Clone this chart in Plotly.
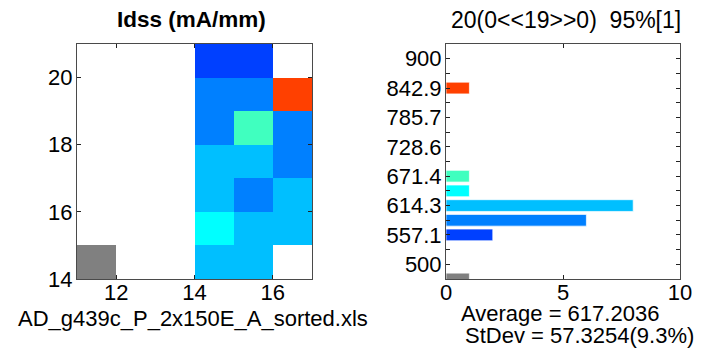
import numpy as np
import plotly.graph_objects as go

# Idss bins (mA/mm): 14 bins spanning 500..900, plus one low-outlier bin
bin_step = 400 / 14
bin_centers = [471.43, 557.14, 585.71, 614.29, 642.86, 671.43, 842.86]
bin_counts = [1, 2, 6, 8, 1, 1, 1]

# Wafer map: die column / row and binned Idss of every measured die
die_col = [11, 14, 15, 14, 15, 16, 14, 15, 16, 14, 15, 16, 14, 15, 16, 14, 15, 16, 14, 15]
die_row = [14, 20, 20, 19, 19, 19, 18, 18, 18, 17, 17, 17, 16, 16, 16, 15, 15, 15, 14, 14]
die_idss = [471.43, 557.14, 557.14, 585.71, 585.71, 842.86, 585.71, 671.43, 585.71,
            614.29, 614.29, 585.71, 614.29, 585.71, 614.29, 642.86, 614.29, 614.29,
            614.29, 614.29]

hist_ticks = [500, 557.1, 614.3, 671.4, 728.6, 785.7, 842.9, 900]
map_xticks = [12, 14, 16]
map_yticks = [14, 16, 18, 20]

title_left = "<b>Idss (mA/mm)</b>"
title_right = "20(0<<19>>0)\u00a0 95%[1]"
file_label = "AD_g439c_P_2x150E_A_sorted.xls"
avg_label = "Average = 617.2036"
std_label = "StDev = 57.3254(9.3%)"

# 16-level jet palette, grey for values below the lower limit
JET16 = [(0, 0, 191), (0, 0, 255), (0, 64, 255), (0, 128, 255), (0, 191, 255),
         (0, 255, 255), (64, 255, 191), (128, 255, 128), (191, 255, 64), (255, 255, 0),
         (255, 191, 0), (255, 128, 0), (255, 64, 0), (255, 0, 0), (191, 0, 0), (128, 0, 0)]
GREY = (128, 128, 128)
LEVELS = [GREY] + JET16  # level index -1 .. 15


def rgb(c):
    return "rgb(%d,%d,%d)" % c


def level_color(v):
    k = int(round((v - 500) / bin_step))
    return rgb(GREY if k < 0 else JET16[min(k, 15)])


zmin = 500 - 1.5 * bin_step
zmax = 500 + 15.5 * bin_step
n = len(LEVELS)
colorscale = []
for i, c in enumerate(LEVELS):
    colorscale.append([i / n, rgb(c)])
    colorscale.append([(i + 1) / n, rgb(c)])

cols = np.arange(11, 17)
rows = np.arange(14, 21)
z = np.full((len(rows), len(cols)), np.nan)
for cx, ry, v in zip(die_col, die_row, die_idss):
    z[ry - rows[0], cx - cols[0]] = v

FONT = "Arial, Liberation Sans, sans-serif"
FS = 22
LINE = "#4a4a4a"

fig = go.Figure()
fig.add_trace(go.Heatmap(
    x=cols + 0.5, y=rows + 0.5, z=z, zmin=zmin, zmax=zmax,
    colorscale=colorscale, showscale=False, hoverongaps=False,
    xaxis="x", yaxis="y"))

fig.add_trace(go.Bar(
    orientation="h", y=bin_centers, x=bin_counts, width=0.8 * bin_step,
    marker=dict(color=[level_color(v) for v in bin_centers],
                line=dict(color="rgba(255,255,255,0.7)", width=1)),
    xaxis="x2", yaxis="y2"))

W, H = 707, 354


def fx(px):
    return px / W


def fy(py):
    return 1 - py / H


L_DOM = [fx(77), fx(312)]
R_DOM = [fx(446), fx(680)]
Y_DOM = [fy(279), fy(44)]

axis_common = dict(showline=True, linecolor=LINE, linewidth=1, mirror="ticks",
                   ticks="inside", ticklen=4, tickcolor="#222", showgrid=False,
                   zeroline=False, automargin=False,
                   tickfont=dict(family=FONT, size=FS, color="#000"))

fig.update_layout(
    width=W, height=H, autosize=False,
    margin=dict(l=0, r=0, t=0, b=0, pad=0, autoexpand=False),
    paper_bgcolor="white", plot_bgcolor="white", showlegend=False,
    font=dict(family=FONT, size=FS, color="#000"),
    xaxis=dict(domain=L_DOM, range=[11, 17], tickvals=map_xticks,
               ticklabelstandoff=-6, **axis_common),
    yaxis=dict(domain=Y_DOM, range=[14, 21], tickvals=map_yticks,
               ticklabelstandoff=-1, **axis_common),
    xaxis2=dict(domain=R_DOM, range=[0, 10], tickvals=[0, 5, 10], anchor="y2",
                ticklabelstandoff=-6, **axis_common),
    yaxis2=dict(domain=Y_DOM, range=[500 - bin_step, 900 + bin_step], anchor="x2",
                tickvals=hist_ticks, ticktext=[("%g" % t) for t in hist_ticks],
                ticklabelstandoff=-1,
                minor=dict(ticks="inside", ticklen=4, tickcolor="#222",
                           tick0=500, dtick=bin_step, showgrid=False),
                **axis_common),
)


def label(text, x, y, size=FS):
    fig.add_annotation(text=text, x=fx(x), y=fy(y), xref="paper", yref="paper",
                       showarrow=False, xanchor="center", yanchor="middle",
                       borderpad=0,
                       font=dict(family=FONT, size=size, color="#000"))


label(title_left, 191, 19, 22.5)
label(title_right, 566, 20, 23)
label(file_label, 193, 318)
label(avg_label, 560, 313)
label(std_label, 579, 335)

fig.write_html("out.html")
